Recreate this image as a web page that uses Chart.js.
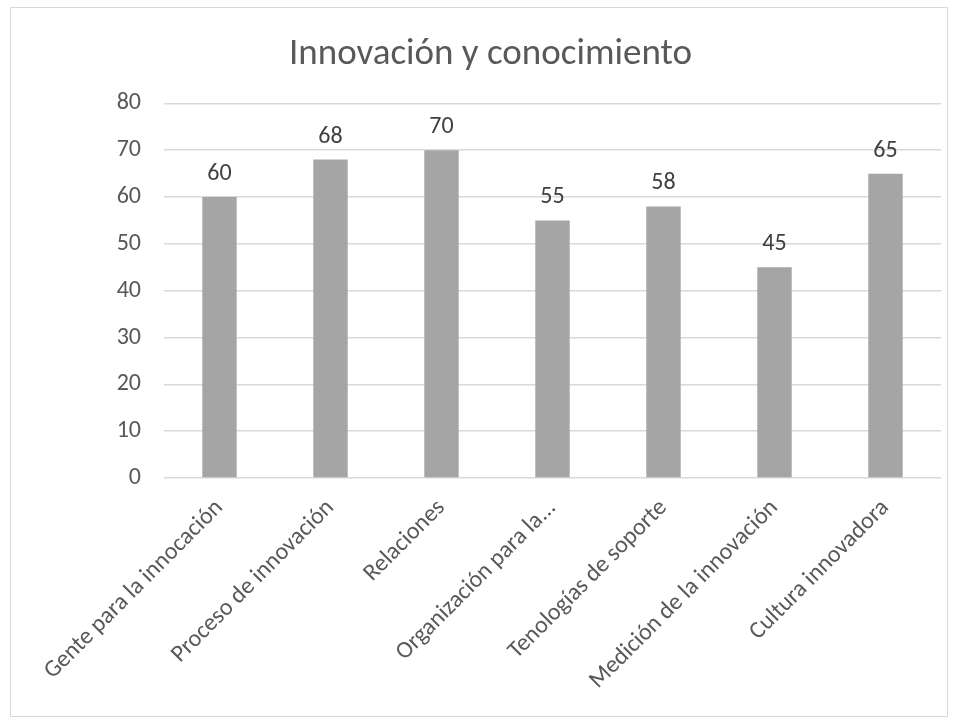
<!DOCTYPE html>
<html>
<head>
<meta charset="utf-8">
<script src="https://cdn.jsdelivr.net/npm/chart.js@4/dist/chart.umd.min.js"></script>
<style>
  html, body { margin: 0; padding: 0; background: #fff; }
  #box {
    position: absolute; left: 10px; top: 7px;
    width: 938px; height: 710px;
    box-sizing: border-box; border: 1px solid #d9d9d9;
  }
</style>
</head>
<body>
<div id="box"><canvas id="chart"></canvas></div>
<script>
const title = 'Innovación y conocimiento';
const categories = [
  'Gente para la innocación',
  'Proceso de innovación',
  'Relaciones',
  'Organización para la...',
  'Tenologías de soporte',
  'Medición de la innovación',
  'Cultura innovadora'
];
const values = [60, 68, 70, 55, 58, 45, 65];
const yTicks = [0, 10, 20, 30, 40, 50, 60, 70, 80];

const fontFamily = 'Carlito, Lato, "Open Sans", sans-serif';

// numbers above each bar
const valueLabels = {
  id: 'valueLabels',
  afterDatasetsDraw(chart) {
    const ctx = chart.ctx;
    const meta = chart.getDatasetMeta(0);
    ctx.save();
    ctx.font = '24px ' + fontFamily;
    ctx.fillStyle = '#404040';
    ctx.textAlign = 'center';
    ctx.textBaseline = 'alphabetic';
    meta.data.forEach((bar, i) => {
      ctx.fillText(String(values[i]), bar.x, bar.y - 17);
    });
    ctx.restore();
  }
};

new Chart(document.getElementById('chart'), {
  type: 'bar',
  data: {
    labels: categories,
    datasets: [{
      data: values,
      backgroundColor: '#a5a5a5',
      borderWidth: 0,
      barPercentage: 0.31,
      categoryPercentage: 1
    }]
  },
  options: {
    responsive: true,
    maintainAspectRatio: false,
    animation: false,
    layout: { padding: { left: 29, right: 6, top: 0, bottom: 0 } },
    plugins: {
      legend: { display: false },
      tooltip: { enabled: false },
      title: {
        display: true,
        text: title,
        color: '#595959',
        font: { family: fontFamily, size: 37, weight: 'normal' },
        padding: { top: 25, bottom: 26 }
      }
    },
    scales: {
      x: {
        grid: { display: false, drawTicks: false },
        border: { display: false },
        ticks: {
          color: '#595959',
          font: { family: fontFamily, size: 24 },
          minRotation: 45,
          maxRotation: 45,
          autoSkip: false,
          padding: 16
        },
        afterFit(scale) { scale.height = 238; }
      },
      y: {
        min: 0,
        max: 80,
        afterBuildTicks(scale) { scale.ticks = yTicks.map(v => ({ value: v })); },
        grid: { color: '#d9d9d9', lineWidth: 1.5, drawTicks: false },
        border: { display: false },
        ticks: {
          color: '#595959',
          font: { family: fontFamily, size: 24 },
          padding: 23
        },
        afterFit(scale) { scale.width = 124; }
      }
    }
  },
  plugins: [valueLabels]
});
</script>
</body>
</html>
